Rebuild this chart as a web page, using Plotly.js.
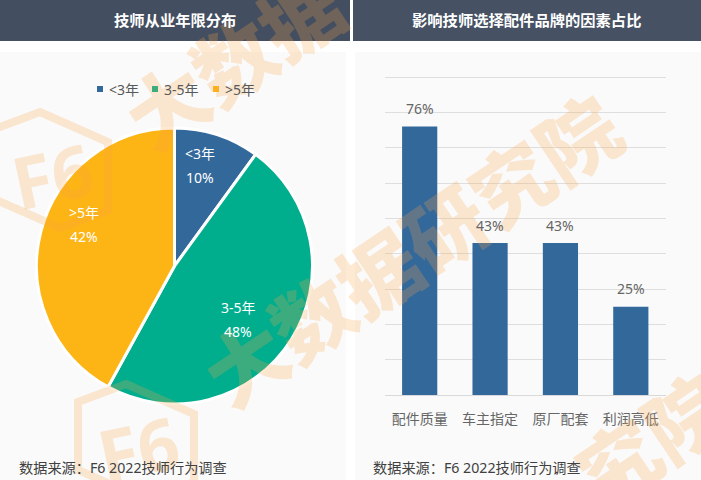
<!DOCTYPE html>
<html><head><meta charset="utf-8">
<script src="https://cdn.plot.ly/plotly-3.0.1.min.js"></script>
<style>html,body{margin:0;padding:0;background:#fff}#c{width:701px;height:480px}</style></head>
<body><div id="c"></div>
<script>
const pieLabels = ['<3年','3-5年','>5年'];
const pieValues = [10,48,42];
const pieColors = ['#33689b','#00ae8e','#fdb515'];
const barCats = ['配件质量','车主指定','原厂配套','利润高低'];
const barValues = [76,43,43,25];
const leftTitle = '技师从业年限分布';
const rightTitle = '影响技师选择配件品牌的因素占比';
const sourceText = '数据来源：F6 2022技师行为调查';

const W=701,H=480;
const fx=x=>x/W, fy=y=>1-y/H;
const FONT='"Noto Sans","Noto Sans CJK SC",sans-serif';
const esc=s=>s.replace(/</g,'&lt;').replace(/>/g,'&gt;');
const rect=(x0,y0,x1,y1,c)=>({type:'rect',xref:'paper',yref:'paper',x0:fx(x0),x1:fx(x1),y0:fy(y0),y1:fy(y1),fillcolor:c,line:{width:0},layer:'below'});
const txt=(x,y,t,size,color,extra)=>Object.assign({xref:'paper',yref:'paper',x:fx(x),y:fy(y),text:t,showarrow:false,xanchor:'center',yanchor:'middle',font:{family:FONT,size:size,color:color}},extra||{});

// watermark
const WM='rgba(250,165,70,0.24)';
const WF='"Noto Sans CJK SC",sans-serif';
const wmAnn=(x,y,s)=>txt(x,y,s,80,WM,{textangle:-34,font:{family:WF,size:80,color:WM,weight:900}});
const wmLogo=(x,y)=>txt(x,y,'F6',72,WM,{textangle:-12,font:{family:FONT,size:72,color:WM,weight:700}});
const hex=(cx,cy)=>({type:'path',xref:'paper',yref:'paper',layer:'above',fillcolor:'rgba(0,0,0,0)',line:{color:WM,width:8},
  path:[[-10,-58],[58,-28],[58,40],[10,58],[-58,28],[-58,-40]].map((p,i)=>(i?'L':'M')+fx(cx+p[0])+','+fy(cy+p[1])).join(' ')+' Z'});

const annotations=[
  wmAnn(232,58,'大数据'),
  wmAnn(410,248,'大数据研究院'),
  wmAnn(650,437,'究院'),
  wmLogo(52,175), wmLogo(138,448),
  txt(175,20,leftTitle,15,'#fff',{font:{family:FONT,size:15.3,color:'#fff',weight:700}}),
  txt(526,20,rightTitle,15,'#fff',{font:{family:FONT,size:15.3,color:'#fff',weight:700}}),
  txt(17,467,sourceText,14.2,'#404040',{xanchor:'left'}),
  txt(371,467,sourceText,14.2,'#404040',{xanchor:'left'}),
  // legend
  txt(107,89,esc(pieLabels[0]),14,'#595959',{xanchor:'left'}),
  txt(162,89,esc(pieLabels[1]),14,'#595959',{xanchor:'left'}),
  txt(223,89,esc(pieLabels[2]),14,'#595959',{xanchor:'left'}),
  // pie labels
  txt(200,153,esc(pieLabels[0]),14,'#fff'), txt(200,177,pieValues[0]+'%',14,'#fff'),
  txt(238,307,esc(pieLabels[1]),14,'#fff'), txt(238,331,pieValues[1]+'%',14,'#fff'),
  txt(84,212,esc(pieLabels[2]),14,'#fff'), txt(84,236,pieValues[2]+'%',14,'#fff'),
];
barCats.forEach((c,i)=>annotations.push({xref:'x',yref:'y',x:c,y:barValues[i],text:barValues[i]+'%',showarrow:false,yshift:18,yanchor:'middle',font:{family:FONT,size:14,color:'#666'}}));

const shapes=[
  rect(0,52,346,480,'#fafafa'), rect(355,52,701,480,'#fafafa'),
  rect(0,0,350,41,'#434f60'), rect(353,0,701,41,'#465264'),
  rect(97,86,103,92,pieColors[0]),
  rect(152,86,158,92,pieColors[1]),
  rect(213,86,219,92,pieColors[2]),
  hex(50,170), hex(136,442)
];

const traces=[
 {type:'pie',labels:pieLabels,values:pieValues,sort:false,direction:'clockwise',rotation:0,
  marker:{colors:pieColors,line:{color:'#fff',width:3}},textinfo:'none',showlegend:false,hoverinfo:'label+percent',
  domain:{x:[fx(36.5),fx(312.5)],y:[fy(404),fy(128)]}},
 {type:'bar',x:barCats,y:barValues,marker:{color:pieColors[0]},width:0.5,showlegend:false,xaxis:'x',yaxis:'y'}
];
const layout={width:W,height:H,margin:{l:0,r:0,t:0,b:0},paper_bgcolor:'#fff',plot_bgcolor:'rgba(0,0,0,0)',showlegend:false,
 xaxis:{domain:[fx(384.5),fx(666)],type:'category',categoryarray:barCats,showline:true,linecolor:'#d9d9d9',ticks:'outside',ticklen:11,tickcolor:'rgba(0,0,0,0)',
   showgrid:false,tickfont:{family:FONT,size:14,color:'#666'},fixedrange:true},
 yaxis:{domain:[fy(395),fy(395-92*318/90)],range:[0,92],tick0:0,dtick:10,showticklabels:false,gridcolor:'#dedede',gridwidth:1,zeroline:false,fixedrange:true},
 shapes:shapes,annotations:annotations};
Plotly.newPlot('c',traces,layout,{displayModeBar:false,staticPlot:true});
</script></body></html>
